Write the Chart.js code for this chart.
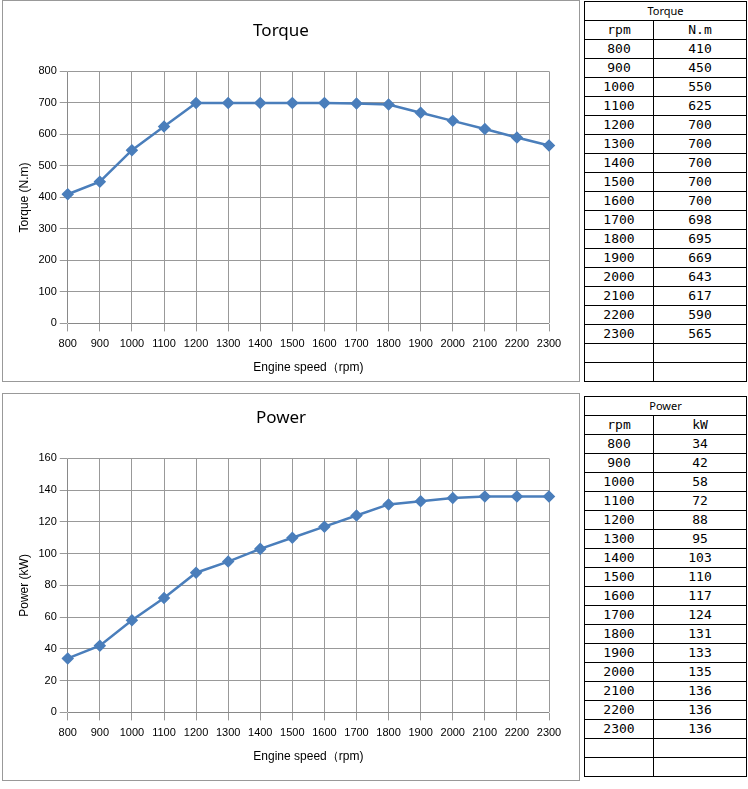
<!DOCTYPE html>
<html>
<head>
<script src="https://cdn.jsdelivr.net/npm/chart.js"></script>
<style>
body { margin:0; width:748px; height:789px; background:#fff; font-family:"Noto Sans", sans-serif; position:relative; }
.box { position:absolute; border:1px solid #999; background:#fff; }
table { position:absolute; border-collapse:collapse; font-family:"DejaVu Sans Mono", monospace; font-size:13px; }
td { border:1.5px solid #000; height:18px; padding:0; text-align:center; line-height:16px; }
td.h { font-family:"Noto Sans", sans-serif; font-size:11px; }
</style>
</head>
<body>
<div class="box" style="left:2px;top:0;width:576px;height:380px"><canvas id="c1" width="576" height="380"></canvas></div>
<div class="box" style="left:2px;top:393px;width:576px;height:386px"><canvas id="c2" width="576" height="386"></canvas></div>
<table id="t1" style="left:584px;top:1px;width:163px"></table>
<table id="t2" style="left:584px;top:396px;width:163px"></table>
<script>
const rpm = ['800','900','1000','1100','1200','1300','1400','1500','1600','1700','1800','1900','2000','2100','2200','2300'];
const torque = [410,450,550,625,700,700,700,700,700,698,695,669,643,617,590,565];
const power = [34,42,58,72,88,95,103,110,117,124,131,133,135,136,136,136];

function fillTable(id, title, unit, vals) {
  let h = '<tr><td colspan="2" class="h">' + title + '</td></tr>';
  h += '<tr><td style="width:68px">rpm</td><td>' + unit + '</td></tr>';
  rpm.forEach((r, i) => { h += '<tr><td>' + r + '</td><td>' + vals[i] + '</td></tr>'; });
  h += '<tr><td></td><td></td></tr><tr><td></td><td></td></tr>';
  document.getElementById(id).innerHTML = h;
}
fillTable('t1', 'Torque', 'N.m', torque);
fillTable('t2', 'Power', 'kW', power);

const cfg = (title, ylabel, data, max, step, top, bottom) => ({
  type: 'line',
  data: { labels: rpm, datasets: [{ data: data, borderColor: '#4a7ebb', backgroundColor: '#4a7ebb', borderWidth: 2.5, pointStyle: 'rectRot', pointRadius: 4.5, tension: 0 }] },
  options: {
    responsive: false, animation: false,
    layout: { padding: { left: 10, right: 30, top: top, bottom: bottom } },
    plugins: { legend: { display: false },
      title: { display: true, text: title, color: '#000', font: { family: 'Noto Sans', size: 17, weight: 'normal' }, padding: { bottom: 30 } } },
    scales: {
      x: { offset: false, grid: { color: '#999' }, ticks: { color: '#000', font: { size: 11 }, maxRotation: 0, autoSkip: false, padding: 6 },
           title: { display: true, text: 'Engine speed（rpm)', color: '#000', font: { size: 12 } } },
      y: { min: 0, max: max, grid: { color: '#999' }, ticks: { stepSize: step, color: '#000', font: { size: 11 } },
           title: { display: true, text: ylabel, color: '#000', font: { size: 12 } } }
    }
  }
});
new Chart(document.getElementById('c1'), cfg('Torque', 'Torque (N.m)', torque, 800, 100, 20, 2));
new Chart(document.getElementById('c2'), cfg('Power', 'Power (kW)', power, 160, 20, 14, 12));
</script>
</body>
</html>
